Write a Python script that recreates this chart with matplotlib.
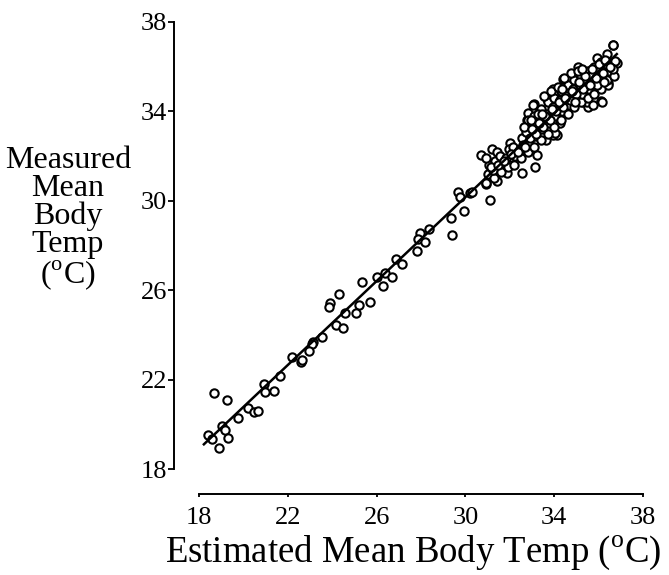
import matplotlib
matplotlib.use("Agg")
import matplotlib.pyplot as plt
import numpy as np

# Estimated mean body temp (x) and measured mean body temp (y), degC
est_low = [18.69, 19.25, 20.93, 21.65, 20.97, 21.39, 20.22, 20.49, 20.64, 19.77,
           19.02, 19.17, 18.42, 18.60, 19.29, 18.90, 22.59, 22.18,
           24.32, 23.90, 23.87, 25.33, 26.27, 25.70, 25.22, 25.06, 24.58, 24.16,
           24.47, 23.56, 23.15, 23.08, 22.97, 22.63, 26.00, 26.38, 26.68,
           29.65, 30.21, 29.76, 30.93, 31.11, 29.94, 29.34, 29.41, 28.37, 27.95,
           27.88, 28.18, 27.81, 26.87, 27.13, 30.28]
meas_low = [21.41, 21.09, 21.80, 22.16, 21.46, 21.50, 20.71, 20.56, 20.61, 20.27,
            19.92, 19.74, 19.52, 19.33, 19.40, 18.93, 22.80, 23.02,
            25.83, 25.41, 25.26, 26.38, 26.19, 25.49, 25.34, 24.99, 24.99, 24.44,
            24.29, 23.89, 23.70, 23.59, 23.29, 22.88, 26.60, 26.76, 26.60,
            30.41, 30.36, 30.18, 30.75, 30.04, 29.56, 29.22, 28.47, 28.72, 28.55,
            28.28, 28.17, 27.77, 27.38, 27.17, 30.41]

est_edge = [30.69, 31.18, 31.41, 30.93, 31.44, 31.86, 32.53, 33.14, 33.21, 32.00,
            32.76, 34.11, 32.07, 36.67, 36.40, 36.82, 36.49, 35.91, 35.09, 34.41,
            33.96, 33.66, 33.09, 33.03, 36.44, 36.11, 35.31, 35.54, 32.76, 33.96,
            33.06, 32.83, 33.36, 34.04, 32.83, 34.04, 34.26, 33.62, 36.63, 36.74,
            36.21, 36.14, 35.46, 35.76, 36.44]
meas_edge = [32.05, 32.30, 32.20, 30.78, 30.90, 31.23, 31.23, 31.53, 32.05, 32.57,
             33.17, 32.94, 31.98, 36.97, 36.57, 36.15, 36.22, 36.37, 35.97, 35.44,
             34.99, 34.54, 34.33, 33.99, 35.26, 34.48, 34.43, 34.21, 33.62, 32.94,
             34.29, 33.91, 34.03, 34.88, 33.47, 33.02, 33.47, 32.72, 36.99, 36.25,
             36.00, 34.43, 34.43, 34.29, 35.18]

est_core = [31.0, 31.05, 30.95, 31.3, 31.25, 31.35, 31.6, 31.65, 31.55, 31.9, 31.85,
            31.95, 32.2, 32.25, 32.15, 32.5, 32.45, 32.55, 32.8, 32.85, 32.75, 32.8,
            33.1, 33.15, 33.05, 33.1, 33.4, 33.45, 33.35, 33.4, 33.7, 33.75, 33.65,
            33.7, 34.0, 34.05, 33.95, 34.0, 34.3, 34.35, 34.25, 34.3, 34.6, 34.65,
            34.55, 34.6, 34.9, 34.95, 34.85, 34.9, 35.2, 35.25, 35.15, 35.2, 35.5,
            35.55, 35.45, 35.5, 35.8, 35.85, 35.75, 35.8, 36.1, 36.15, 36.05, 36.1,
            36.4, 36.45, 36.35, 36.7, 36.65, 34.45, 34.75, 35.05, 35.35, 35.65,
            35.95, 33.55, 33.85, 34.15, 32.65, 32.95, 33.25,
            31.15, 31.45, 31.75, 32.05, 32.35, 32.6, 32.9, 33.2, 33.5, 33.8, 34.1,
            34.4, 34.7, 35.0, 35.3, 35.6, 35.9, 36.2, 36.5, 33.0, 33.3, 33.6,
            33.9, 34.2, 34.5, 34.8, 35.1, 35.4, 35.7, 36.0, 36.3, 32.7, 33.45,
            34.35, 35.25, 36.25, 34.95]
meas_core = [31.2, 31.6, 31.9, 31.0, 31.4, 31.8, 31.3, 31.7, 32.0, 31.5, 31.9,
             32.3, 31.6, 32.0, 32.4, 31.9, 32.3, 32.8, 32.2, 32.6, 33.1, 33.6,
             32.4, 32.9, 33.4, 33.8, 32.7, 33.2, 33.6, 34.1, 33.0, 33.5, 33.9,
             34.4, 33.3, 33.8, 34.2, 34.6, 33.6, 34.0, 34.5, 34.9, 33.9, 34.3,
             34.7, 35.2, 34.2, 34.6, 35.0, 35.4, 34.4, 34.8, 35.2, 35.6, 34.6,
             35.0, 35.4, 35.8, 34.8, 35.3, 35.7, 36.0, 35.0, 35.5, 35.9, 36.2,
             35.4, 35.8, 36.1, 35.6, 35.9, 35.5, 35.7, 35.8, 35.1, 35.6,
             35.2, 34.7, 34.9, 35.1, 33.3, 33.6, 33.9,
             31.5, 31.6, 31.8, 32.1, 32.2, 32.5, 32.8, 33.0, 33.3, 33.6, 34.0,
             34.2, 34.5, 34.8, 35.0, 35.2, 35.5, 35.7, 36.0, 33.2, 33.5, 33.8,
             34.1, 34.4, 34.6, 34.9, 35.3, 35.6, 35.9, 36.1, 36.3, 32.4, 33.9,
             35.0, 35.9, 35.3, 34.4]

ticks = [18, 22, 26, 30, 34, 38]

x = np.array(est_low + est_edge + est_core)
y = np.array(meas_low + meas_edge + meas_core)
slope, intercept = np.polyfit(x, y, 1)
xl = np.array([x.min() - 0.2, x.max()])

plt.rcParams['font.family'] = ['Liberation Serif', 'DejaVu Serif']
plt.rcParams['mathtext.fontset'] = 'custom'
plt.rcParams['mathtext.rm'] = 'Liberation Serif'

fig = plt.figure(figsize=(6.69, 5.75), dpi=100)
ax = fig.add_axes([199/669, 1 - 469/575, 444/669, 447/575])

ax.scatter(x, y, s=6.0**2, facecolors='white', edgecolors='black',
           linewidths=1.5, zorder=2)
ax.plot(xl, slope * xl + intercept, color='black', lw=1.8, zorder=3)

ax.set_xlim(18, 38)
ax.set_ylim(18, 38)
ax.set_xticks(ticks)
ax.set_yticks(ticks)
ax.spines['top'].set_visible(False)
ax.spines['right'].set_visible(False)
ax.spines['left'].set_position(('outward', 18))
ax.spines['bottom'].set_position(('outward', 18))
for s in ('left', 'bottom'):
    ax.spines[s].set_linewidth(1.4)
ax.tick_params(axis='y', direction='out', length=4, width=1.3, pad=1, labelsize=19)
ax.tick_params(axis='x', direction='out', length=2.5, width=1.3, pad=7, labelsize=19)

fig.text(413/669, 1 - 553/575, r'Estimated Mean Body Temp ($^{\rm o}$C)',
         ha='center', va='center', fontsize=26.5)
fig.text(68/669, 1 - 219/575, 'Measured\nMean\nBody\nTemp\n' + r'($^{\rm o}$C)',
         ha='center', va='center', multialignment='center', fontsize=23,
         linespacing=0.95)

fig.savefig('out.png', dpi=100)
